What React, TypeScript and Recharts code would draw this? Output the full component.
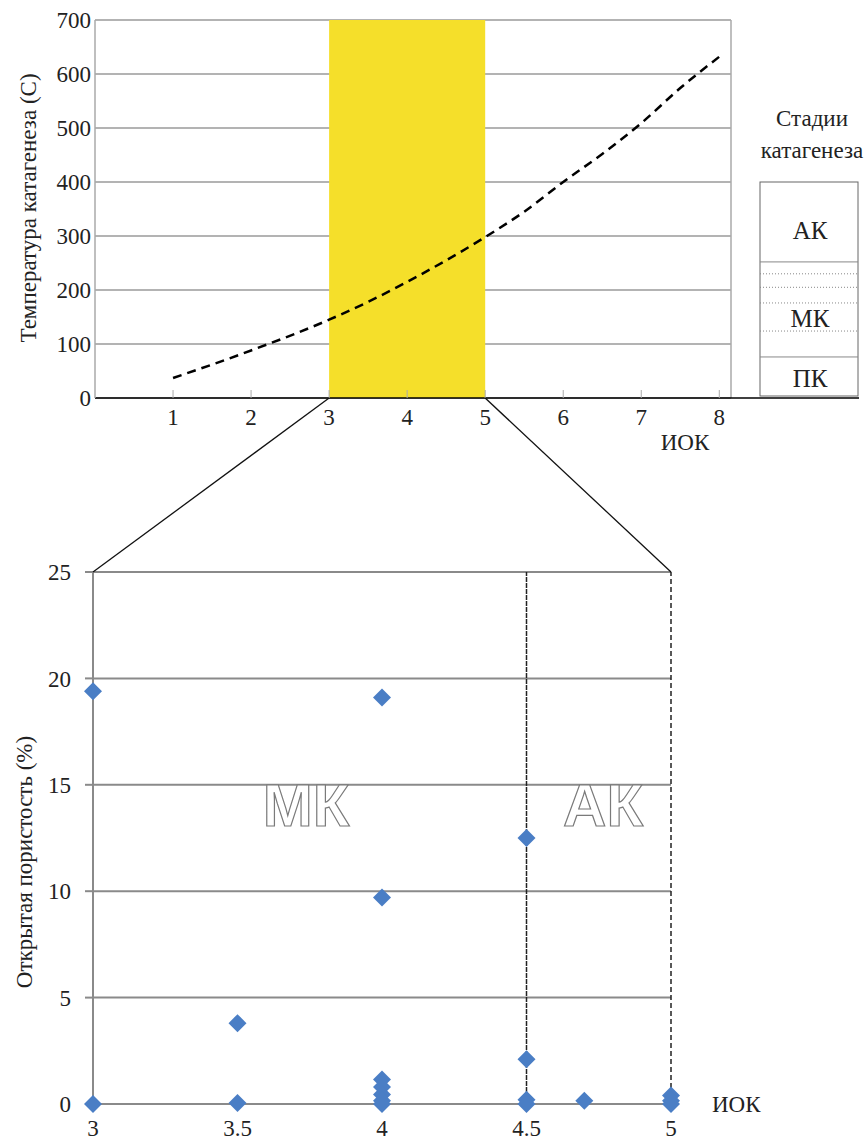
import React from 'react';
import {
  ComposedChart,
  Line,
  XAxis,
  YAxis,
  CartesianGrid,
  ReferenceArea,
  ReferenceLine,
  ReferenceDot,
  ScatterChart,
  Scatter,
} from 'recharts';

// верхний график: температура катагенеза по ИОК
const iokLine = [1, 2, 3, 3.5, 4, 4.5, 5, 5.5, 6, 6.5, 7, 7.5, 8];
const tempLine = [37, 88, 145, 178, 215, 255, 298, 345, 400, 452, 509, 574, 632];
const tempTicks = [0, 100, 200, 300, 400, 500, 600, 700];
const iokTopTicks = [1, 2, 3, 4, 5, 6, 7, 8];

// стадии катагенеза (границы по температуре)
const stageSolid = [400, 252, 76, 0];
const stageDotted = [230, 205, 176, 124];
const stageLabels = ['АК', 'МК', 'ПК'];
const stageLabelTemps = [310, 148, 37];

// нижний график: открытая пористость
const iokPts = [3, 3, 3.5, 3.5, 4, 4, 4, 4, 4, 4, 4, 4.5, 4.5, 4.5, 4.5, 4.7, 5, 5, 5];
const porosity = [19.4, 0, 3.8, 0.05, 19.1, 9.7, 1.15, 0.8, 0.45, 0.15, 0, 12.5, 2.1, 0.2, 0, 0.15, 0.4, 0.15, 0];
const porTicks = [0, 5, 10, 15, 20, 25];
const iokBottomTicks = [3, 3.5, 4, 4.5, 5];

const SERIF = "'Liberation Serif', 'Times New Roman', Times, Tinos, 'Noto Serif', 'DejaVu Serif', serif";

// положение областей построения (px)
const TOP = { left: 95, right: 731, top: 20, bottom: 398, xMax: 8.15, yMax: 700 };
const BOT = { left: 93, right: 671, top: 572, bottom: 1104, xMin: 3, xMax: 5 };

const topX = (v: number) => TOP.left + (v / TOP.xMax) * (TOP.right - TOP.left);
const topY = (t: number) => TOP.bottom - (t / TOP.yMax) * (TOP.bottom - TOP.top);
const botX = (v: number) => BOT.left + ((v - BOT.xMin) / (BOT.xMax - BOT.xMin)) * (BOT.right - BOT.left);

const Diamond = (props: any) => {
  const { cx, cy } = props;
  const r = 9;
  return <path d={`M${cx},${cy - r}L${cx + r},${cy}L${cx},${cy + r}L${cx - r},${cy}Z`} fill="#4a7ec5" />;
};

const lineData = iokLine.map((x, i) => ({ x, temp: tempLine[i] }));
const scatterData = iokPts.map((x, i) => ({ x, y: porosity[i] }));

const outline = {
  fill: '#ffffff',
  stroke: '#7a7a7a',
  strokeWidth: 1.2,
  fontSize: 60,
  fontWeight: 700,
  fontFamily: "'Liberation Sans', Arial, sans-serif",
};

const txt = { fontSize: 23, fill: '#222', fontFamily: SERIF };

export default function App() {
  const tickStyle = { fontSize: 23, fill: '#222', fontFamily: SERIF };
  return (
    <div
      style={{
        position: 'absolute',
        left: 0,
        top: 0,
        width: 864,
        height: 1146,
        background: '#fff',
        overflow: 'hidden',
        fontFamily: SERIF,
      }}
    >
      <div style={{ position: 'absolute', left: 0, top: 0 }}>
        <ComposedChart width={864} height={460} data={lineData} margin={{ top: 20, right: 133, left: 35, bottom: 22 }}>
          <CartesianGrid vertical={false} stroke="#9a9a9a" strokeWidth={1.5} />
          <XAxis
            type="number"
            dataKey="x"
            domain={[0, TOP.xMax]}
            ticks={iokTopTicks}
            height={40}
            axisLine={{ stroke: '#000', strokeWidth: 1.5 }}
            tickLine={{ stroke: '#aaa' }}
            tickSize={-8}
            tickMargin={19}
            tick={tickStyle}
            allowDataOverflow
          />
          <YAxis
            type="number"
            domain={[0, 700]}
            ticks={tempTicks}
            width={60}
            axisLine={{ stroke: '#aaa', strokeWidth: 1.5 }}
            tickLine={false}
            tickSize={0}
            tickMargin={4}
            tick={tickStyle}
          />
          <ReferenceArea x1={3} x2={5} y1={0} y2={700} fill="#f5df2a" fillOpacity={1} stroke="none" />
          <ReferenceLine x={TOP.xMax} stroke="#aaa" strokeWidth={1.5} />
          <Line
            type="monotone"
            dataKey="temp"
            stroke="#000"
            strokeWidth={2.5}
            strokeDasharray="9 6"
            dot={false}
            isAnimationActive={false}
          />
        </ComposedChart>
      </div>

      <div style={{ position: 'absolute', left: 0, top: 480 }}>
        <ScatterChart width={864} height={666} margin={{ top: 92, right: 193, left: 33, bottom: 12 }}>
          <CartesianGrid vertical={false} stroke="#8a8a8a" strokeWidth={2} />
          <XAxis
            type="number"
            dataKey="x"
            domain={[3, 5]}
            ticks={iokBottomTicks}
            height={30}
            axisLine={{ stroke: '#8a8a8a', strokeWidth: 2 }}
            tickLine={false}
            tickSize={0}
            tickMargin={16}
            tick={tickStyle}
          />
          <YAxis
            type="number"
            dataKey="y"
            domain={[0, 25]}
            ticks={porTicks}
            width={60}
            axisLine={{ stroke: '#8a8a8a', strokeWidth: 2 }}
            tickLine={{ stroke: '#8a8a8a', strokeWidth: 2 }}
            tickSize={8}
            tickMargin={14}
            tick={tickStyle}
          />
          <ReferenceLine x={4.5} stroke="#222" strokeWidth={1.5} strokeDasharray="5 1" />
          <ReferenceLine x={5} stroke="#222" strokeWidth={1.5} strokeDasharray="5 3" />
          <ReferenceDot x={3.737} y={14.05} r={0} label={{ value: 'МК', position: 'center', ...outline }} />
          <ReferenceDot x={4.765} y={14.05} r={0} label={{ value: 'АК', position: 'center', ...outline }} />
          <Scatter data={scatterData} shape={Diamond} isAnimationActive={false} />
        </ScatterChart>
      </div>

      <svg width={864} height={1146} style={{ position: 'absolute', left: 0, top: 0, pointerEvents: 'none' }}>
        {/* подпись оси Y сверху */}
        <text x={0} y={0} transform="translate(28,208) rotate(-90)" textAnchor="middle" dominantBaseline="central" {...txt}>
          Температура катагенеза (С)
        </text>
        <text x={685} y={442} textAnchor="middle" dominantBaseline="central" {...txt}>
          ИОК
        </text>

        {/* стадии катагенеза */}
        <text x={812} y={118} textAnchor="middle" dominantBaseline="central" {...txt}>
          Стадии
        </text>
        <text x={812} y={150} textAnchor="middle" dominantBaseline="central" {...txt}>
          катагенеза
        </text>
        <line x1={TOP.right} y1={TOP.bottom} x2={859} y2={TOP.bottom} stroke="#000" strokeWidth={1.5} />
        <rect
          x={760}
          y={topY(stageSolid[0])}
          width={98}
          height={topY(0) - topY(stageSolid[0]) - 2}
          fill="none"
          stroke="#666"
          strokeWidth={1}
        />
        {stageSolid.slice(1, 3).map((t) => (
          <line key={t} x1={760} x2={858} y1={topY(t)} y2={topY(t)} stroke="#888" strokeWidth={1} />
        ))}
        {stageDotted.map((t) => (
          <line key={t} x1={760} x2={858} y1={topY(t)} y2={topY(t)} stroke="#888" strokeWidth={1} strokeDasharray="1 2" />
        ))}
        {stageLabels.map((s, i) => (
          <text
            key={s}
            x={810}
            y={topY(stageLabelTemps[i])}
            textAnchor="middle"
            dominantBaseline="central"
            {...txt}
            fontSize={25}
          >
            {s}
          </text>
        ))}

        {/* выноска 3–5 */}
        <line x1={topX(3)} y1={TOP.bottom} x2={botX(3)} y2={BOT.top} stroke="#111" strokeWidth={1.3} />
        <line x1={topX(5)} y1={TOP.bottom} x2={botX(5)} y2={BOT.top} stroke="#111" strokeWidth={1.3} />

        {/* подписи нижнего графика */}
        <text x={0} y={0} transform="translate(24,862) rotate(-90)" textAnchor="middle" dominantBaseline="central" {...txt}>
          Открытая пористость (%)
        </text>
        <text x={712} y={BOT.bottom} dominantBaseline="central" {...txt}>
          ИОК
        </text>
      </svg>
    </div>
  );
}
